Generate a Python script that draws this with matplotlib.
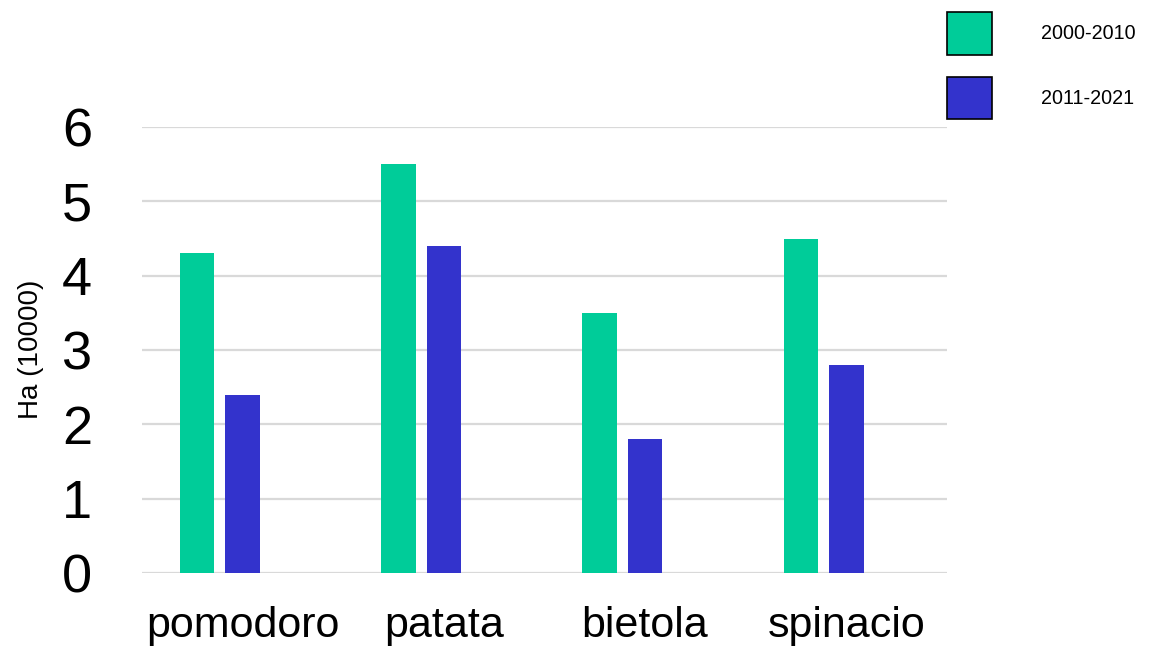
import numpy as np
import matplotlib
matplotlib.use("Agg")
import matplotlib.pyplot as plt
from matplotlib.patches import Patch

plt.rcParams['font.family'] = ['Liberation Sans', 'DejaVu Sans']

# dati (Ha in unità di 10000)
colture = ['pomodoro', 'patata', 'bietola', 'spinacio']
periodo_1 = [4.3, 5.5, 3.5, 4.5]   # 2000-2010
periodo_2 = [2.4, 4.4, 1.8, 2.8]   # 2011-2021
etichette = ['2000-2010', '2011-2021']
y_ticks = [0, 1, 2, 3, 4, 5, 6]

verde = '#00cc99'
blu = '#3333cc'

fig = plt.figure(figsize=(11.51, 6.49), dpi=100)
ax = fig.add_axes([142 / 1151, 1 - 573 / 649, 805 / 1151, 446 / 649])

x = np.arange(len(colture))
w = 0.172
ax.bar(x - 0.226, periodo_1, width=w, color=verde, zorder=3)
ax.bar(x, periodo_2, width=w, color=blu, zorder=3)

ax.set_xlim(-0.5, 3.5)
ax.set_ylim(0, 6)
ax.set_yticks(y_ticks)
ax.set_xticks(x)
ax.set_xticklabels(colture)
ax.tick_params(axis='y', length=0, labelsize=39, pad=36)
ax.tick_params(axis='x', length=0, labelsize=31, pad=24)
ax.grid(axis='y', color='#d9d9d9', linewidth=1.6, zorder=0)
for s in ax.spines.values():
    s.set_visible(False)

ax.set_ylabel('Ha (10000)', fontsize=20)
ax.yaxis.set_label_coords(-0.122, 0.502)

handles = [Patch(facecolor=verde, edgecolor='black', linewidth=1.2),
           Patch(facecolor=blu, edgecolor='black', linewidth=1.2)]
fig.legend(handles, etichette, loc='upper left',
           bbox_to_anchor=(947 / 1151, 1 - 12 / 649),
           frameon=False, fontsize=14.2, borderpad=0, borderaxespad=0,
           handlelength=2.28, handleheight=2.94, handletextpad=2.5,
           labelspacing=1.12)

fig.savefig('out.png', dpi=100)
